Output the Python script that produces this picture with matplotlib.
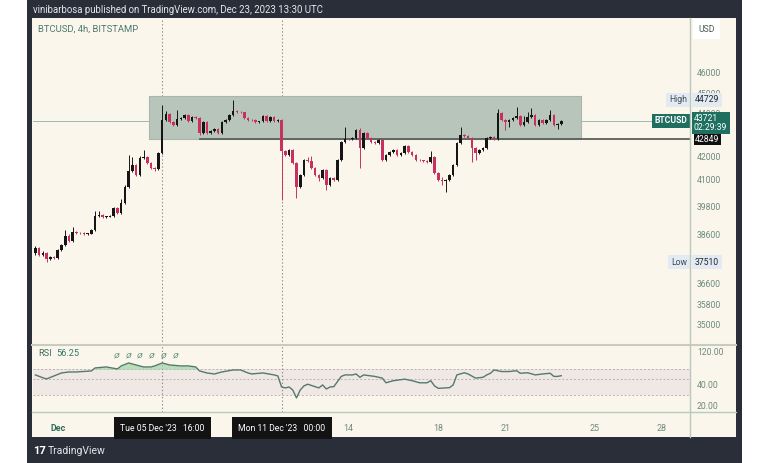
import numpy as np
import matplotlib
matplotlib.use("Agg")
import matplotlib.pyplot as plt
import matplotlib.dates as mdates
from matplotlib.patches import Rectangle
from matplotlib.lines import Line2D
from matplotlib.transforms import blended_transform_factory
from datetime import datetime

plt.rcParams['font.family'] = ['Roboto', 'DejaVu Sans']

W, H = 768, 463

# BTCUSD 4h candles, first bar 2023-11-30 00:00 (open of each bar = previous close)
first_bar = datetime(2023, 11, 30)
open0 = 37880
closes = [
    38090, 37800, 37880, 37640, 37720, 37680, 38010, 38220, 38590, 38380,
    38760, 38720, 38700, 38670, 38690, 38840, 39440, 39460, 39390, 39410,
    39440, 39780, 39560, 40000, 40700, 41410, 41680, 41230, 42000, 42040,
    41770, 41540, 41500, 42220, 43760, 44050, 43670, 43530, 43810, 43860,
    44000, 43720, 43900, 43860, 43150, 43670, 43150, 43240, 43340, 43150,
    43670, 43760, 44000, 44190, 44140, 44120, 43860, 43760, 43740, 43670,
    43690, 43950, 43720, 43900, 43720, 43740, 42320, 42130, 42360, 41770,
    40700, 41230, 41900, 41860, 41540, 41230, 41090, 41450, 40780, 41090,
    41010, 41900, 42730, 42870, 42850, 42920, 43290, 42450, 43150, 42920,
    42730, 42680, 42820, 41900, 42130, 42270, 42360, 42130, 42220, 42550,
    42270, 42130, 41900, 41880, 41860, 41810, 42040, 41320, 41010, 40960,
    41010, 41230, 41680, 42680, 43060, 43010, 42920, 42450, 42220, 42360,
    42450, 42920, 42970, 42870, 44100, 43760, 43670, 43760, 43860, 43950,
    43530, 43670, 43900, 44000, 43530, 43760, 43620, 43760, 44000, 43530,
    43570, 43721]
highs = [
    38170, 38130, 37950, 37920, 37760, 37770, 38050, 38260, 38840, 38650,
    38970, 38800, 38760, 38740, 38730, 38880, 39650, 39650, 39500, 39450,
    39480, 39830, 39830, 40170, 40760, 42130, 42060, 41740, 42080, 42360,
    42100, 41820, 41600, 42290, 44480, 44190, 44110, 43720, 44240, 43920,
    44060, 44050, 43950, 43940, 43900, 43720, 43710, 43290, 43380, 43390,
    43710, 43810, 44050, 44729, 44240, 44190, 44160, 43900, 43800, 43790,
    43730, 43990, 43990, 43940, 43940, 43800, 43800, 42380, 42420, 42400,
    41810, 41280, 41960, 42050, 42100, 41580, 41270, 41500, 41490, 41130,
    41130, 41950, 42780, 43430, 42920, 42960, 43330, 43390, 43200, 43190,
    42960, 42770, 42860, 42860, 42170, 42310, 42400, 42400, 42260, 42600,
    42590, 42310, 42170, 41940, 41920, 41900, 42300, 42080, 41360, 41130,
    41050, 41270, 41720, 42720, 43430, 43100, 43050, 42960, 42490, 42400,
    42490, 42960, 43010, 43010, 44290, 44150, 43800, 43800, 43900, 44380,
    43990, 43950, 44150, 44340, 44040, 43800, 43800, 43800, 44240, 44040,
    43610, 43760]
lows = [
    37800, 37760, 37740, 37510, 37590, 37620, 37650, 37980, 38190, 38330,
    38350, 38680, 38660, 38640, 38630, 38660, 38800, 39400, 39350, 39360,
    39380, 39410, 39520, 39520, 39960, 40660, 41360, 41180, 41190, 41960,
    41720, 41490, 41420, 41460, 42180, 43700, 43620, 43470, 43490, 43760,
    43820, 43680, 43680, 43820, 43060, 43100, 43100, 43110, 43200, 43100,
    43110, 43630, 43720, 43960, 44100, 44080, 43820, 43720, 43700, 43630,
    43620, 43650, 43680, 43680, 43680, 43680, 40130, 42080, 42090, 41720,
    40210, 40660, 41190, 41820, 41500, 41190, 40960, 41050, 40560, 40740,
    40970, 40970, 41860, 42690, 42810, 42810, 42880, 41540, 42410, 42880,
    42690, 42640, 42640, 41860, 41860, 42090, 42230, 42090, 42090, 42180,
    42230, 42090, 41860, 41840, 41820, 41770, 41770, 41280, 40970, 40780,
    40470, 40970, 41190, 41640, 42640, 42970, 42880, 41810, 41900, 42180,
    42320, 42410, 42880, 42830, 42830, 43720, 43290, 43420, 43720, 43820,
    43490, 43490, 43630, 43860, 43490, 43490, 43580, 43580, 43720, 43490,
    43340, 43530]

rsi_bar = [0, 2, 3, 5, 7, 9, 11, 15, 16, 19, 22, 23, 25, 27, 29, 31, 32, 34, 36, 39,
           41, 43, 44, 46, 48, 50, 53, 55, 57, 58, 61, 64, 65, 66, 67, 68, 69, 70, 71, 72,
           73, 75, 76, 77, 78, 79, 80, 82, 83, 85, 86, 87, 88, 91, 93, 94, 95, 96, 99, 101,
           103, 105, 106, 107, 108, 111, 112, 113, 115, 116, 118, 120, 121, 122, 123, 125,
           127, 129, 130, 132, 134, 136, 138, 139, 140, 141]
rsi_val = [57.7, 52.5, 50.5, 55.8, 61.6, 63.7, 63.7, 65.9, 72.8, 75.3, 70.4, 77.9, 86.0, 80.4,
           75.3, 75.3, 77.9, 86.0, 80.4, 77.9, 77.9, 75.3, 65.9, 61.6, 59.6, 63.7, 68.1, 68.1,
           61.6, 59.6, 61.6, 57.7, 55.8, 38.6, 37.4, 38.6, 34.9, 26.8, 34.9, 40.0, 42.3, 39.0,
           37.4, 41.3, 36.1, 38.6, 39.0, 54.9, 57.7, 57.7, 59.6, 53.3, 57.7, 54.9, 51.9, 44.4,
           46.0, 47.6, 50.1, 47.6, 44.4, 44.4, 47.6, 40.0, 36.9, 37.7, 41.3, 57.7, 62.0, 59.6,
           51.9, 53.3, 57.7, 61.0, 68.1, 64.6, 64.6, 66.4, 61.0, 62.0, 57.7, 59.6, 61.0, 54.9,
           54.9, 56.25]

# drawings on the chart
range_top, range_bottom = 44915, 42849
range_start_bar, range_end_bar = 30.5, 146.2
support_start_bar = 44
last_price, high_price, low_price = 43721, 44729, 37510
price_ticks = [46000, 45000, 44000, 42000, 41000, 39800, 38600, 36600, 35800, 35000]
rsi_ticks = [120, 40, 20]
date_ticks = [datetime(2023, 12, d) for d in (1, 14, 18, 21, 25, 28)]
date_labels = ['Dec', '14', '18', '21', '25', '28']
cross_times = [datetime(2023, 12, 5, 16), datetime(2023, 12, 11, 0)]
cross_labels = ["Tue 05 Dec '23   16:00", "Mon 11 Dec '23   00:00"]

FRAME = '#2a2e39'
CREAM = '#faf6ec'
UP = '#151515'
DOWN = '#c8315f'
AXTXT = '#6d8a7f'


def fx(x):
    return x / W


def fy(y):
    return 1 - y / H


def px_rect(x, y, w, h):
    return [x / W, 1 - (y + h) / H, w / W, h / H]


fig = plt.figure(figsize=(W / 100, H / 100), dpi=100)
fig.patch.set_facecolor('white')
fig.add_artist(Rectangle((fx(27), 0), (742 - 27) / W, 1, transform=fig.transFigure,
                         fc=FRAME, ec='none', zorder=-3))
fig.add_artist(Rectangle((fx(32), fy(437)), (736 - 32) / W, (437 - 18) / H,
                         transform=fig.transFigure, fc=CREAM, ec='none', zorder=-2))

ax = fig.add_axes(px_rect(33, 18, 657, 327))
rx = fig.add_axes(px_rect(33, 345, 657, 67), sharex=ax)
for a in (ax, rx):
    a.set_facecolor('none')
    for s in a.spines.values():
        s.set_visible(False)
    a.tick_params(left=False, bottom=False, labelleft=False, labelbottom=False)

# candles
t0 = mdates.date2num(first_bar)
c = np.array(closes, dtype=float)
o = np.r_[open0, c[:-1]]
t = t0 + np.arange(len(c)) / 6
col = np.where(c >= o, UP, DOWN)
ax.set_yscale('log')
ax.vlines(t, lows, highs, colors=col, lw=0.7, zorder=3)
ax.bar(t, np.maximum(np.abs(c - o), 30), bottom=np.minimum(o, c), width=0.115,
       color=col, linewidth=0, zorder=4)

x_left, x_right = t0 - 0.64 / 6, t0 + 175.5 / 6
ax.set_xlim(x_left, x_right)
ax.set_ylim(34283, 48880)
ax.minorticks_off()

# range box, support line, last price line
ax.add_patch(Rectangle((t0 + range_start_bar / 6, range_bottom),
                       (range_end_bar - range_start_bar) / 6, range_top - range_bottom,
                       fc='#b7c5bb', ec='#a8b6ad', lw=0.8, zorder=2))
ax.plot([t0 + support_start_bar / 6, x_right], [range_bottom] * 2, color='#5a605c',
        lw=1.3, zorder=2.5)
ax.axhline(last_price, color='#88b0a6', lw=0.6, zorder=1.5)

for ct in cross_times:
    for a in (ax, rx):
        a.axvline(mdates.date2num(ct), color='#8c8c8c', lw=0.8, ls=(0, (1.2, 2)), zorder=1)

# price scale
tr = blended_transform_factory(ax.transAxes, ax.transData)


def axx(px):
    return (px - 33) / 657


for p in price_ticks:
    ax.text(axx(697), p, str(p), transform=tr, color=AXTXT, fontsize=6.2, va='center',
            ha='left', clip_on=False)

lab = dict(transform=tr, fontsize=6.2, va='center', clip_on=False, zorder=10)
ax.text(axx(687), high_price, 'High', ha='right', color='#3d4b57',
        bbox=dict(boxstyle='square,pad=0.3', fc='#e3eaf1', ec='none'), **lab)
ax.text(axx(695), high_price, str(high_price), ha='left', color='#1d2833',
        bbox=dict(boxstyle='square,pad=0.3', fc='#e3eaf1', ec='none'), **lab)
ax.text(axx(687), low_price, 'Low', ha='right', color='#3d4b57',
        bbox=dict(boxstyle='square,pad=0.3', fc='#e3eaf1', ec='none'), **lab)
ax.text(axx(695), low_price, str(low_price), ha='left', color='#1d2833',
        bbox=dict(boxstyle='square,pad=0.3', fc='#e3eaf1', ec='none'), **lab)
ax.text(axx(687), last_price, 'BTCUSD', ha='right', color='white', fontweight='bold',
        bbox=dict(boxstyle='square,pad=0.3', fc='#1e6f60', ec='none'), **lab)
ax.annotate(f'{last_price}\n02:29:39', xy=(axx(694), last_price), xycoords=tr,
            xytext=(0, 5), textcoords='offset points', va='top', ha='left',
            fontsize=6.2, color='white', linespacing=1.0, annotation_clip=False, zorder=10,
            bbox=dict(boxstyle='square,pad=0.25', fc='#1e6f60', ec='none'))
ax.text(axx(695), range_bottom, str(range_bottom), ha='left', color='white',
        transform=tr, fontsize=6.2, va='center', clip_on=False, zorder=11,
        bbox=dict(boxstyle='square,pad=0.15', fc='#111111', ec='none'))

# RSI pane
rx.set_yscale('log')
rx.set_ylim(16.75, 156.6)
rx.minorticks_off()
rx.axhspan(30, 70, color='#efe8e5', lw=0, zorder=0)
for lvl in (70, 50, 30):
    rx.axhline(lvl, color='#b9b2ae', lw=0.7, ls=(0, (2, 2)), zorder=0.5)
tr_r = t0 + np.array(rsi_bar) / 6
rv = np.array(rsi_val)
rx.fill_between(tr_r, rv, 70, where=rv > 70, interpolate=True, color='#9cd6a2',
                alpha=0.7, lw=0, zorder=1)
rx.plot(tr_r, rv, color='#56796c', lw=1.0, zorder=2)
trr = blended_transform_factory(rx.transAxes, rx.transData)
for v in rsi_ticks:
    rx.text(axx(697), v, f'{v:.2f}', transform=trr, color=AXTXT, fontsize=6.2,
            va='center', ha='left', clip_on=False)

# time axis
trd = blended_transform_factory(rx.transData, rx.transAxes)
for d, l in zip(date_ticks, date_labels):
    rx.text(mdates.date2num(d), -0.24, l, transform=trd, ha='center', va='center',
            fontsize=6.4, color='#2f6b5c' if l == 'Dec' else AXTXT,
            fontweight='bold' if l == 'Dec' else 'normal', clip_on=False)
for ct, l in zip(cross_times, cross_labels):
    rx.text(mdates.date2num(ct), -0.24, l, transform=trd, ha='center', va='center',
            fontsize=6.2, color='white', clip_on=False, zorder=10,
            bbox=dict(boxstyle='square,pad=0.75', fc='#131313', ec='none'))

# separators
for (x0, y0, x1, y1, cc, lw) in [(32, 345, 736, 345, '#c9cbbd', 1.5),
                                 (32, 412, 736, 412, '#b7ccbd', 1.0),
                                 (690, 18, 690, 437, '#b9c7bd', 1.0)]:
    fig.add_artist(Line2D([fx(x0), fx(x1)], [fy(y0), fy(y1)], color=cc, lw=lw,
                          transform=fig.transFigure))

# texts
fig.text(fx(33), fy(10), 'vinibarbosa published on TradingView.com, Dec 23, 2023 13:30 UTC',
         color='#e4e6ec', fontsize=6.9, va='center', ha='left')
fig.text(fx(38), fy(29), 'BTCUSD, 4h, BITSTAMP', color='#4d7a6e', fontsize=6.8,
         va='center', ha='left')
fig.text(fx(698), fy(29), 'USD', color='#4a5a55', fontsize=6.2, va='center', ha='left',
         bbox=dict(boxstyle='square,pad=0.6', fc='white', ec='none'))
fig.text(fx(38), fy(354), 'RSI', color='#3f6c60', fontsize=6.6, va='center', ha='left')
fig.text(fx(56), fy(354), f'{rsi_val[-1]:.2f}', color='#2f7a68', fontsize=6.6,
         va='center', ha='left')
for k in range(6):
    fig.text(fx(116.5 + 11.8 * k), fy(355), '\u00d8', color='#5f8f77', fontsize=6,
             va='center', ha='center', style='italic')
fig.text(fx(33), fy(451), '17', color='white', fontsize=8, fontweight='bold',
         va='center', ha='left')
fig.text(fx(48), fy(451), 'TradingView', color='#e4e6ec', fontsize=7.5,
         va='center', ha='left')

fig.savefig('out.png', dpi=100)
